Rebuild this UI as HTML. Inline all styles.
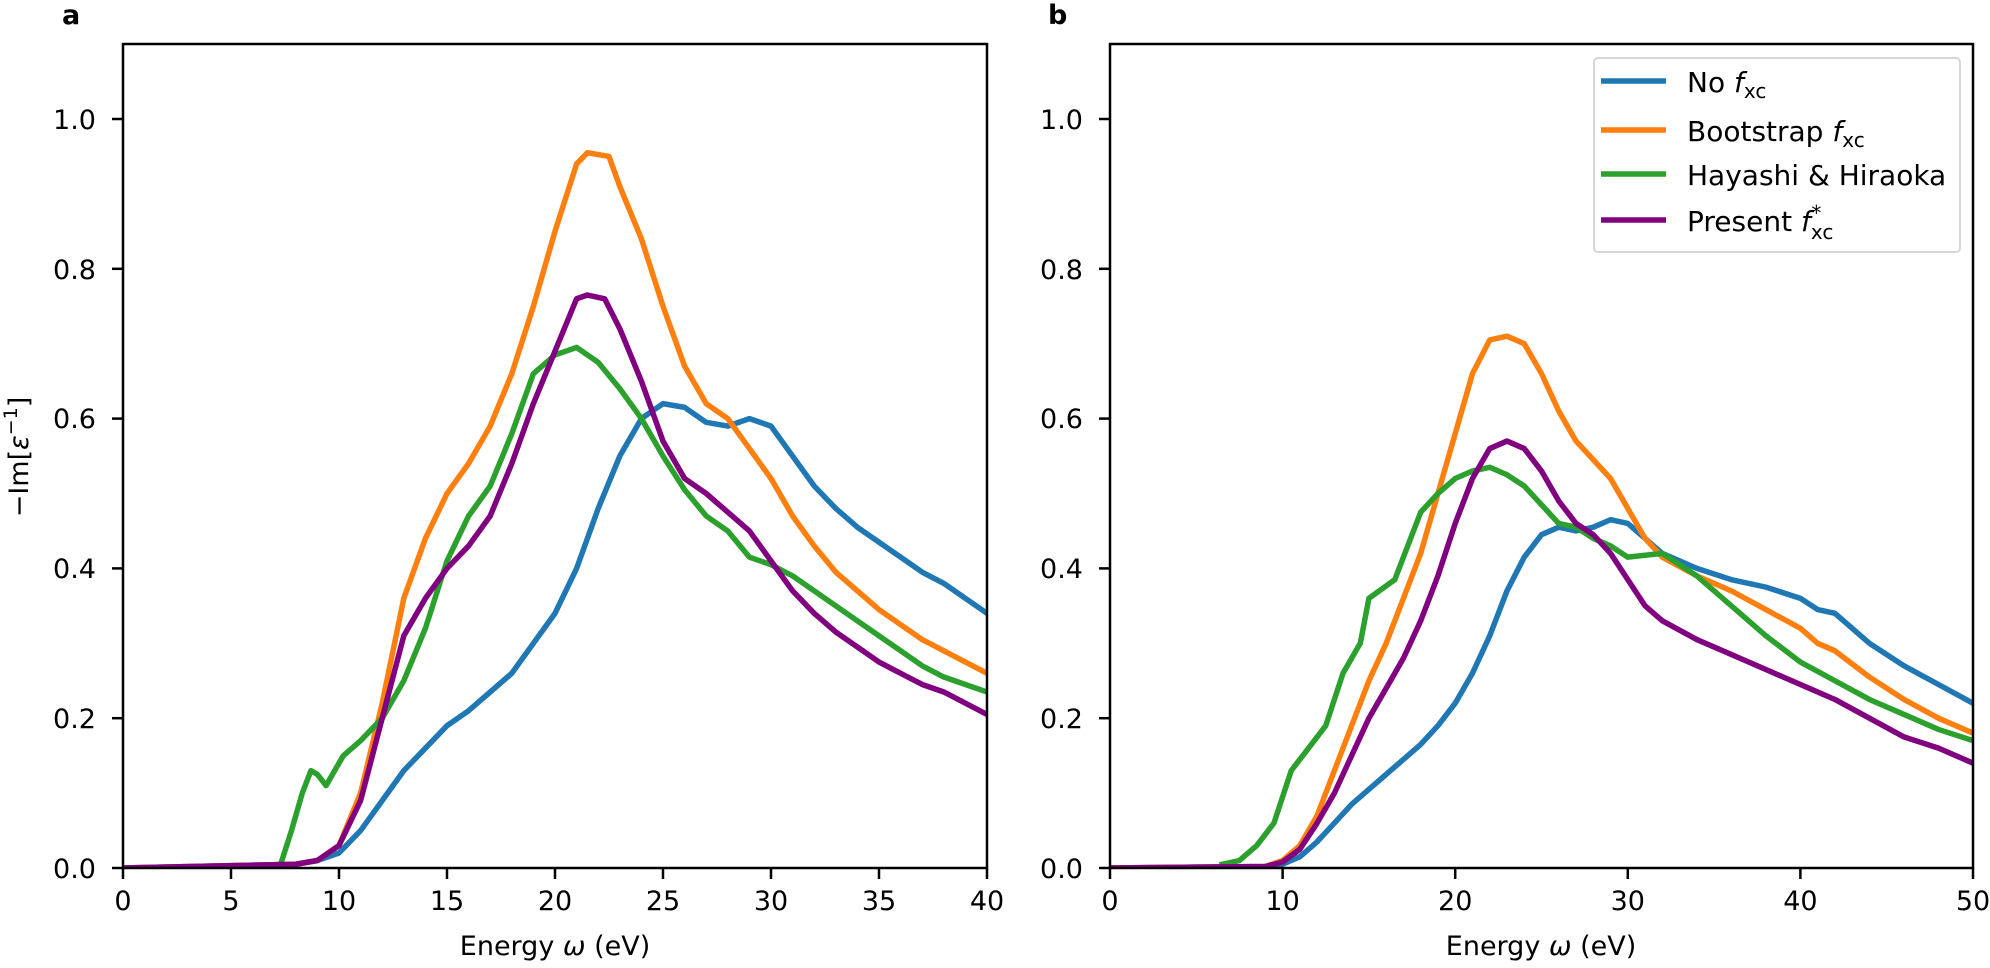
<!DOCTYPE html>
<html><head><meta charset="utf-8"><style>
html,body{margin:0;padding:0;background:#fff;}
svg{display:block;font-family:"DejaVu Sans","Liberation Sans",sans-serif;}
.ln{fill:none;stroke-width:5.5;vector-effect:non-scaling-stroke;stroke-linejoin:round;stroke-linecap:square;}
</style></head><body>
<svg width="1990" height="968" viewBox="0 0 1990 968" xmlns="http://www.w3.org/2000/svg">
<defs>
<clipPath id="ca"><rect x="123" y="44" width="864" height="824"/></clipPath>
<clipPath id="cb"><rect x="1110" y="44" width="863" height="824"/></clipPath>
</defs>
<g clip-path="url(#ca)">
<g transform="translate(123,868) scale(21.6,-749)">
<polyline class="ln" stroke="#1f77b4" points="0,0 8,0.005 9,0.01 10,0.02 11,0.05 12,0.09 13,0.13 14,0.16 15,0.19 16,0.21 17,0.235 18,0.26 19,0.3 20,0.34 21,0.4 22,0.48 23,0.55 24,0.6 25,0.62 26,0.615 27,0.595 28,0.59 29,0.6 30,0.59 31,0.55 32,0.51 33,0.48 34,0.455 35,0.435 36,0.415 37,0.395 38,0.38 39,0.36 40,0.34"/>
<polyline class="ln" stroke="#ff7f0e" points="0,0 8,0.005 9,0.01 10,0.03 11,0.1 12,0.22 13,0.36 14,0.44 15,0.5 16,0.54 17,0.59 18,0.66 19,0.75 20,0.85 21,0.94 21.5,0.955 22.5,0.95 23,0.91 24,0.84 25,0.75 26,0.67 27,0.62 28,0.6 29,0.56 30,0.52 31,0.47 32,0.43 33,0.395 34,0.37 35,0.345 36,0.325 37,0.305 38,0.29 39,0.275 40,0.26"/>
<polyline class="ln" stroke="#2ca02c" points="7.3,0.005 7.8,0.05 8.3,0.1 8.7,0.13 9,0.125 9.4,0.11 9.8,0.13 10.2,0.15 11,0.17 12,0.2 13,0.25 14,0.32 15,0.41 16,0.47 17,0.51 18,0.58 19,0.66 20,0.685 21,0.695 22,0.675 23,0.64 24,0.6 25,0.55 26,0.505 27,0.47 28,0.45 29,0.415 30,0.405 31,0.39 32,0.37 33,0.35 34,0.33 35,0.31 36,0.29 37,0.27 38,0.255 39,0.245 40,0.235"/>
<polyline class="ln" stroke="#800080" points="0,0 8,0.005 9,0.01 10,0.03 11,0.09 12,0.2 13,0.31 14,0.36 15,0.4 16,0.43 17,0.47 18,0.54 19,0.62 20,0.69 21,0.76 21.5,0.765 22.3,0.76 23,0.72 24,0.65 25,0.57 26,0.52 27,0.5 28,0.475 29,0.45 30,0.41 31,0.37 32,0.34 33,0.315 34,0.295 35,0.275 36,0.26 37,0.245 38,0.235 39,0.22 40,0.205"/>
</g></g>
<rect x="123" y="44" width="864" height="824" fill="none" stroke="#000" stroke-width="2.5"/>
<g stroke="#000" stroke-width="2.5">
<line x1="123" y1="868" x2="123" y2="879"/><line x1="231" y1="868" x2="231" y2="879"/><line x1="339" y1="868" x2="339" y2="879"/><line x1="447" y1="868" x2="447" y2="879"/><line x1="555" y1="868" x2="555" y2="879"/><line x1="663" y1="868" x2="663" y2="879"/><line x1="771" y1="868" x2="771" y2="879"/><line x1="879" y1="868" x2="879" y2="879"/><line x1="987" y1="868" x2="987" y2="879"/>
<line x1="112" y1="868" x2="123" y2="868"/><line x1="112" y1="718.2" x2="123" y2="718.2"/><line x1="112" y1="568.4" x2="123" y2="568.4"/><line x1="112" y1="418.6" x2="123" y2="418.6"/><line x1="112" y1="268.8" x2="123" y2="268.8"/><line x1="112" y1="119" x2="123" y2="119"/>
</g>
<g font-size="27" text-anchor="middle" fill="#000">
<text x="123" y="910">0</text><text x="231" y="910">5</text><text x="339" y="910">10</text><text x="447" y="910">15</text><text x="555" y="910">20</text><text x="663" y="910">25</text><text x="771" y="910">30</text><text x="879" y="910">35</text><text x="987" y="910">40</text>
<text x="555" y="955">Energy <tspan font-style="italic">ω</tspan> (eV)</text>
</g>
<g font-size="27" text-anchor="end" fill="#000">
<text x="96" y="878">0.0</text><text x="96" y="728">0.2</text><text x="96" y="578">0.4</text><text x="96" y="428">0.6</text><text x="96" y="279">0.8</text><text x="96" y="129">1.0</text>
</g>
<text transform="translate(28,457) rotate(-90)" font-size="27" text-anchor="middle">−Im[<tspan font-style="italic">ε</tspan><tspan font-size="19" dy="-11">−1</tspan><tspan dy="11">]</tspan></text>
<text x="62" y="24" font-size="27" font-weight="bold">a</text>
<g clip-path="url(#cb)">
<g transform="translate(1110,868) scale(17.26,-749)">
<polyline class="ln" stroke="#1f77b4" points="0,0 9,0.002 10,0.005 11,0.015 12,0.035 13,0.06 14,0.085 15,0.105 16,0.125 17,0.145 18,0.165 19,0.19 20,0.22 21,0.26 22,0.31 23,0.37 24,0.415 25,0.445 26,0.455 27,0.45 28,0.455 29,0.465 30,0.46 31,0.44 32,0.42 34,0.4 36,0.385 38,0.375 40,0.36 41,0.345 42,0.34 43,0.32 44,0.3 46,0.27 48,0.245 50,0.22"/>
<polyline class="ln" stroke="#ff7f0e" points="0,0 9,0.002 10,0.01 11,0.03 12,0.07 13,0.13 14,0.19 15,0.25 16,0.3 17,0.36 18,0.42 19,0.5 20,0.58 21,0.66 22,0.705 23,0.71 24,0.7 25,0.66 26,0.61 27,0.57 28,0.545 29,0.52 30,0.48 31,0.44 32,0.415 34,0.39 36,0.37 38,0.345 40,0.32 41,0.3 42,0.29 44,0.255 46,0.225 48,0.2 50,0.18"/>
<polyline class="ln" stroke="#2ca02c" points="6.5,0.005 7.5,0.01 8.5,0.03 9.5,0.06 10.5,0.13 11.5,0.16 12.5,0.19 13.5,0.26 14.5,0.3 15,0.36 16.5,0.385 18,0.475 19,0.5 20,0.52 21,0.53 22,0.535 23,0.525 24,0.51 25,0.485 26,0.46 27,0.455 28,0.44 29,0.43 30,0.415 32,0.42 34,0.39 36,0.35 38,0.31 40,0.275 42,0.25 44,0.225 46,0.205 48,0.185 50,0.17"/>
<polyline class="ln" stroke="#800080" points="0,0 9,0.002 10,0.008 11,0.025 12,0.06 13,0.1 14,0.15 15,0.2 16,0.24 17,0.28 18,0.33 19,0.39 20,0.46 21,0.52 22,0.56 23,0.57 24,0.56 25,0.53 26,0.49 27,0.46 28,0.445 29,0.42 30,0.385 31,0.35 32,0.33 34,0.305 36,0.285 38,0.265 40,0.245 41,0.235 42,0.225 44,0.2 46,0.175 48,0.16 50,0.14"/>
</g></g>
<rect x="1110" y="44" width="863" height="824" fill="none" stroke="#000" stroke-width="2.5"/>
<g stroke="#000" stroke-width="2.5">
<line x1="1110" y1="868" x2="1110" y2="879"/><line x1="1282.6" y1="868" x2="1282.6" y2="879"/><line x1="1455.2" y1="868" x2="1455.2" y2="879"/><line x1="1627.8" y1="868" x2="1627.8" y2="879"/><line x1="1800.4" y1="868" x2="1800.4" y2="879"/><line x1="1973" y1="868" x2="1973" y2="879"/>
<line x1="1099" y1="868" x2="1110" y2="868"/><line x1="1099" y1="718.2" x2="1110" y2="718.2"/><line x1="1099" y1="568.4" x2="1110" y2="568.4"/><line x1="1099" y1="418.6" x2="1110" y2="418.6"/><line x1="1099" y1="268.8" x2="1110" y2="268.8"/><line x1="1099" y1="119" x2="1110" y2="119"/>
</g>
<g font-size="27" text-anchor="middle" fill="#000">
<text x="1110" y="910">0</text><text x="1282.6" y="910">10</text><text x="1455.2" y="910">20</text><text x="1627.8" y="910">30</text><text x="1800.4" y="910">40</text><text x="1973" y="910">50</text>
<text x="1541" y="955">Energy <tspan font-style="italic">ω</tspan> (eV)</text>
</g>
<g font-size="27" text-anchor="end" fill="#000">
<text x="1083" y="878">0.0</text><text x="1083" y="728">0.2</text><text x="1083" y="578">0.4</text><text x="1083" y="428">0.6</text><text x="1083" y="279">0.8</text><text x="1083" y="129">1.0</text>
</g>
<text x="1048" y="24" font-size="27" font-weight="bold">b</text>
<rect x="1594" y="58" width="366" height="194" rx="4" fill="#fff" fill-opacity="0.8" stroke="#d6d6d6" stroke-width="2"/>
<g stroke-width="5.5">
<line x1="1601" y1="81" x2="1666" y2="81" stroke="#1f77b4"/>
<line x1="1601" y1="130" x2="1666" y2="130" stroke="#ff7f0e"/>
<line x1="1601" y1="174" x2="1666" y2="174" stroke="#2ca02c"/>
<line x1="1601" y1="220" x2="1666" y2="220" stroke="#800080"/>
</g>
<g font-size="28" fill="#000">
<text x="1687" y="92">No <tspan font-style="italic">f</tspan><tspan font-size="20" dy="6">xc</tspan></text>
<text x="1687" y="141">Bootstrap <tspan font-style="italic">f</tspan><tspan font-size="20" dy="6">xc</tspan></text>
<text x="1687" y="185">Hayashi &amp; Hiraoka</text>
<text x="1687" y="231">Present <tspan font-style="italic">f</tspan><tspan font-size="20" dy="8">xc</tspan><tspan font-size="20" dx="-22" dy="-19">*</tspan></text>
</g>
</svg>
</body></html>
